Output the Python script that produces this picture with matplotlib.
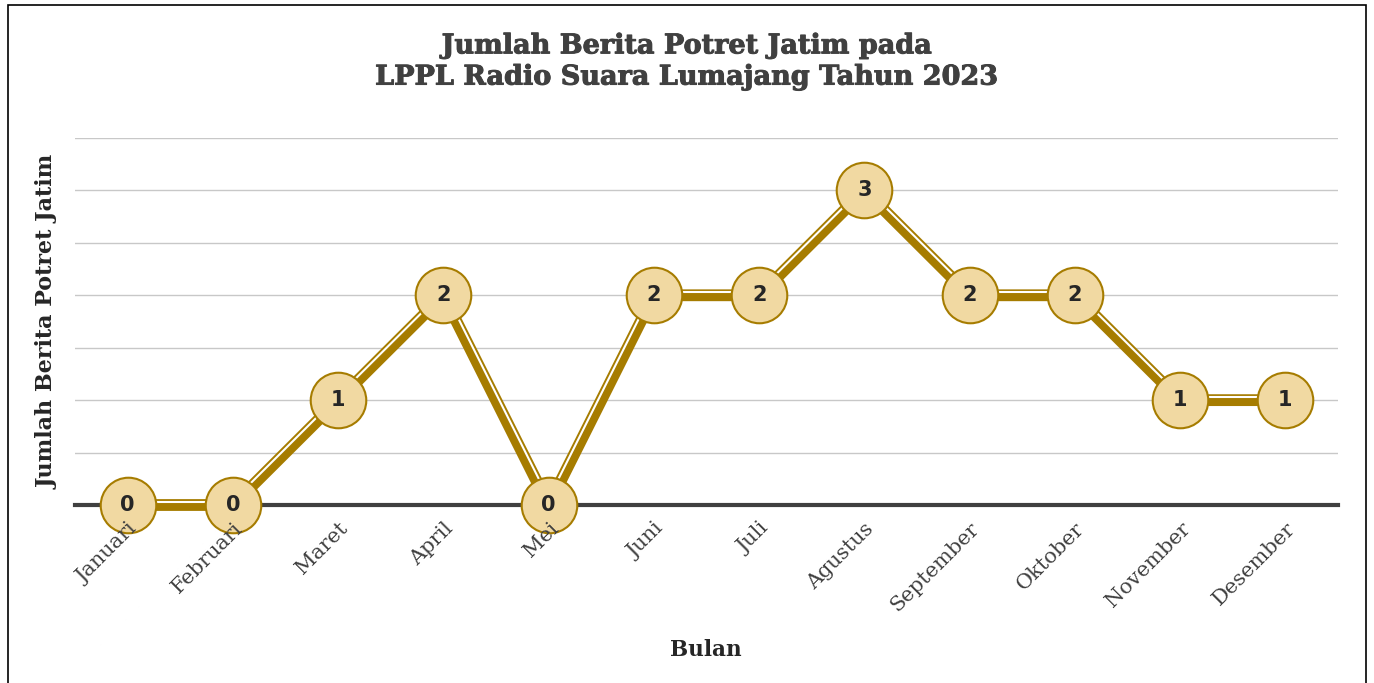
import numpy as np
import matplotlib
matplotlib.use("Agg")
import matplotlib.pyplot as plt
import matplotlib.transforms as mtransforms
import matplotlib.patheffects as pe
from matplotlib.patches import Rectangle

# data
bulan = ['Januari', 'Februari', 'Maret', 'April', 'Mei', 'Juni', 'Juli',
         'Agustus', 'September', 'Oktober', 'November', 'Desember']
jumlah = [0, 0, 1, 2, 0, 2, 2, 3, 2, 2, 1, 1]

gold = '#A67C00'
tan = '#F1D9A2'
dark = '#404040'

fig = plt.figure(figsize=(13.74, 6.83), dpi=100)
ax = fig.add_axes([0.0546, 0.2606, 0.9192, 0.5374])

x = np.arange(len(bulan))
ax.set_xlim(-0.5, len(bulan) - 0.5)
ax.set_ylim(0, 3.5)

# grid
for g in np.arange(0.5, 3.51, 0.5):
    ax.axhline(g, color='#C8C8C8', lw=1.0, zorder=0)
ax.axhline(0, color=dark, lw=3, zorder=1, clip_on=False)

# thick line
ax.plot(x, jumlah, color=gold, lw=8.5, solid_capstyle='butt', zorder=2, clip_on=False)

# white gap stripe, offset perpendicular per segment
fig.canvas.draw()
for i in range(len(x) - 1):
    p0 = ax.transData.transform((x[i], jumlah[i]))
    p1 = ax.transData.transform((x[i + 1], jumlah[i + 1]))
    d = p1 - p0
    n = np.array([-d[1], d[0]]) / np.hypot(*d)
    if n[1] < 0:
        n = -n
    tr = mtransforms.offset_copy(ax.transData, fig, x=n[0] * 2.1, y=n[1] * 2.1, units='points')
    ax.plot(x[i:i + 2], jumlah[i:i + 2], color='white', lw=1.5, transform=tr,
            solid_capstyle='butt', zorder=3, clip_on=False)

# markers + labels
ax.plot(x, jumlah, ls='none', marker='o', markersize=40, markerfacecolor=tan,
        markeredgecolor=gold, markeredgewidth=1.5, zorder=4, clip_on=False)
for xi, v in zip(x, jumlah):
    ax.text(xi, v, str(v), ha='center', va='center', fontsize=15, fontweight='bold',
            color='#262626', family='DejaVu Sans', zorder=5)

for s in ax.spines.values():
    s.set_visible(False)
ax.set_yticks([])
ax.set_xticks(x)
ax.set_xticklabels(bulan, rotation=45, ha='right', rotation_mode='anchor',
                   fontsize=15, family='DejaVu Serif', color=dark)
ax.tick_params(axis='x', length=0, pad=10)
ax.xaxis.set_zorder(6)

ax.set_ylabel('Jumlah Berita Potret Jatim', fontsize=16, fontweight='bold',
              family='DejaVu Serif', color='#262626')
ax.yaxis.set_label_coords(-0.013, 0.5)
fig.text(0.514, 0.048, 'Bulan', ha='center', va='center', fontsize=15.5,
         fontweight='bold', family='DejaVu Serif', color='#262626')

fig.text(0.5, 0.91, 'Jumlah Berita Potret Jatim pada\nLPPL Radio Suara Lumajang Tahun 2023',
         ha='center', va='center', fontsize=19.5, fontweight='bold',
         family='DejaVu Serif', color=dark, linespacing=1.2,
         path_effects=[pe.withStroke(linewidth=0.7, foreground=dark)])

fig.patches.append(Rectangle((0.006, -0.01), 0.988, 1.003, transform=fig.transFigure,
                             fill=False, edgecolor='black', lw=1.2))

fig.savefig('out.png', dpi=100, facecolor='white')
